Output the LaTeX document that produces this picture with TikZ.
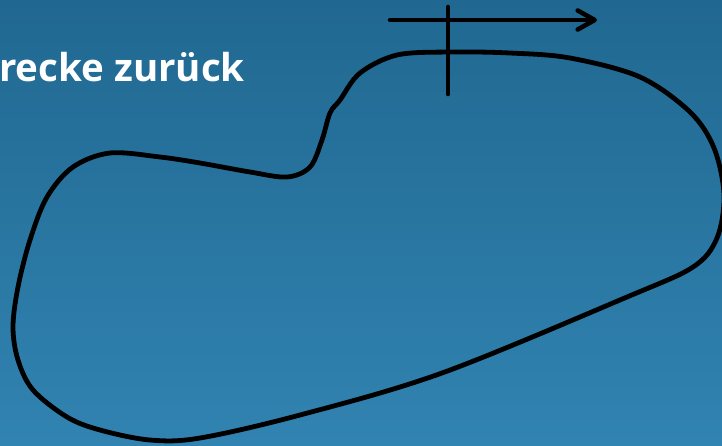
\documentclass[tikz,border=0pt]{standalone}
\usepackage{fontspec}
\setmainfont{Open Sans}
\usetikzlibrary{arrows.meta,calc,positioning}
\definecolor{trackSkyTop}{HTML}{206891}
\definecolor{trackSkyLow}{HTML}{3183B1}
\definecolor{trackInk}{HTML}{000000}

\begin{document}
\begin{tikzpicture}[x=1pt,y=-1pt,>=Latex,line cap=round,line join=round]
\useasboundingbox (0,0) rectangle (722,445);
\clip (0,0) rectangle (722,445);
\shade[top color=trackSkyTop,bottom color=trackSkyLow] (0,0) rectangle (722,445);
\tikzset{track/.style={draw=trackInk,line width=4.8pt},startline/.style={draw=trackInk,line width=4.6pt}}
\node[anchor=base west,inner sep=0pt,text=white,font=\bfseries\fontsize{38.5}{42}\selectfont] (title) at (-1,81) {recke zurück};
% race track
\draw[track] plot[smooth cycle,tension=0.55] coordinates {
  (397,55) (450,52) (510,53) (570,58) (640,77) (690,112) (714,148) (724,195) (717,238)
  (693,267) (627,297) (442,373) (300,415) (200,438) (150,440) (100,430) (67,417)
  (33,390) (18,360) (13,327) (18,287) (30,240) (47,197) (73,167) (110,153) (160,157)
  (200,163) (250,172) (287,177) (310,167) (322,140) (330,113) (340,100) (360,73)};
% start / finish and direction
\coordinate (gateTop) at (448,7);
\coordinate (gateLow) at (448,94);
\coordinate (dirFrom) at (390,20);
\coordinate (dirTo) at (597,20);
\draw[startline] (gateTop) -- (gateLow);
\draw[startline,-{Straight Barb[length=17pt,width=19pt,round]}] (dirFrom) -- (dirTo);
\end{tikzpicture}
\end{document}
